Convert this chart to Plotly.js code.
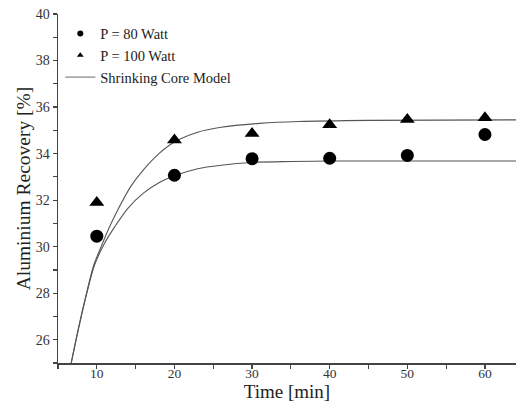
<!DOCTYPE html>
<html>
<head>
<meta charset="utf-8">
<script src="https://cdn.plot.ly/plotly-3.0.1.min.js"></script>
<style>html,body{margin:0;padding:0;background:#fff;}#chart{width:516px;height:408px;}</style>
</head>
<body>
<div id="chart"></div>
<script>
// Experimental data
const time = [10, 20, 30, 40, 50, 60];
const recovery80 = [30.45, 33.07, 33.78, 33.8, 33.92, 34.82];
const recovery100 = [31.9, 34.58, 34.86, 35.24, 35.47, 35.54];

// Shrinking core model curves
const model80Time = [6.7, 7.6, 8.6, 9.7, 11, 12.3, 14, 16, 18, 20, 23, 26, 30, 35, 40, 50, 64];
const model80Rec  = [25.0, 26.4, 27.85, 29.2, 30.15, 30.85, 31.65, 32.3, 32.75, 33.05, 33.35, 33.5, 33.62, 33.66, 33.68, 33.68, 33.68];
const model100Time = [6.7, 7.6, 8.6, 9.6, 10.5, 11.5, 12.5, 14.4, 16, 18, 20, 23, 26, 31, 36, 45, 64];
const model100Rec  = [25.0, 26.45, 27.9, 29.2, 29.95, 30.75, 31.45, 32.6, 33.3, 34.0, 34.5, 34.92, 35.13, 35.3, 35.38, 35.43, 35.45];

const legendNames = ['P = 80 Watt', 'P = 100 Watt', 'Shrinking Core Model'];

const serif = 'Liberation Serif, Times New Roman, serif';
const lineStyle = {color: '#555', width: 1.1, shape: 'spline', smoothing: 0.8};
const traces = [
  {x: model80Time, y: model80Rec, mode: 'lines', line: lineStyle, showlegend: false, hoverinfo: 'skip'},
  {x: model100Time, y: model100Rec, mode: 'lines', line: lineStyle, showlegend: false, hoverinfo: 'skip'},
  {x: time, y: recovery80, mode: 'markers', marker: {symbol: 'circle', size: 13, color: '#000'}, showlegend: false},
  {x: time, y: recovery100, mode: 'markers', marker: {symbol: 'triangle-up', size: 13, color: '#000'}, showlegend: false},
  // legend entries
  {x: [null], y: [null], mode: 'markers', name: legendNames[0], marker: {symbol: 'circle', size: 6, color: '#000'}},
  {x: [null], y: [null], mode: 'markers', name: legendNames[1], marker: {symbol: 'triangle-up', size: 6, color: '#000'}},
  {x: [null], y: [null], mode: 'lines', name: legendNames[2], line: {color: '#888', width: 1.2}}
];

const tickFont = {family: serif, size: 13.5, color: '#333'};
const minorTicks = {ticks: 'outside', ticklen: 4, tickcolor: '#444', tickwidth: 1.2, showgrid: false};
const layout = {
  width: 516, height: 408,
  margin: {l: 58, r: 0, t: 14, b: 45},
  paper_bgcolor: '#fff', plot_bgcolor: '#fff',
  showlegend: true,
  legend: {x: 0.005, y: 0.99, xanchor: 'left', yanchor: 'top', bgcolor: 'rgba(0,0,0,0)',
           font: {family: serif, size: 14.5, color: '#222'},
           tracegroupgap: 0, itemwidth: 30},
  xaxis: {
    range: [5, 64], showgrid: false, zeroline: false,
    showline: true, linecolor: '#444', linewidth: 1.5,
    ticks: 'outside', ticklen: 4, tickcolor: '#444', tickwidth: 1.2,
    tick0: 0, dtick: 10, tickfont: tickFont, ticklabelstandoff: -7,
    minor: Object.assign({dtick: 5, tick0: 0}, minorTicks),
    title: {text: 'Time [min]', font: {family: serif, size: 19, color: '#222'}, standoff: 2}
  },
  yaxis: {
    range: [25, 40], showgrid: false, zeroline: false,
    showline: true, linecolor: '#444', linewidth: 1.5,
    ticks: 'outside', ticklen: 4, tickcolor: '#444', tickwidth: 1.2,
    tick0: 0, dtick: 2, tickfont: {family: serif, size: 14, color: '#333'},
    minor: Object.assign({dtick: 1, tick0: 0}, minorTicks),
    title: {text: 'Aluminium Recovery [%]', font: {family: serif, size: 19.5, color: '#222'}, standoff: 0}
  }
};

Plotly.newPlot('chart', traces, layout, {displayModeBar: false, staticPlot: true});
</script>
</body>
</html>
